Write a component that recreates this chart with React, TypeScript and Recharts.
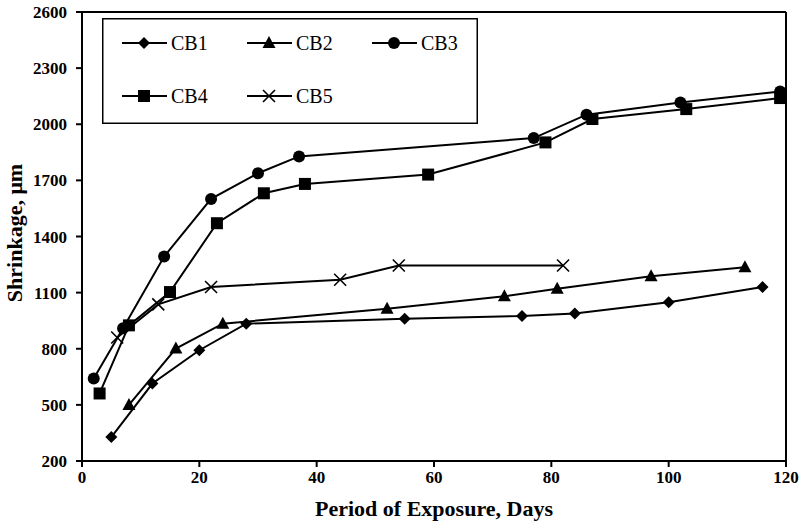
import { LineChart, Line, XAxis, YAxis } from 'recharts';

const cb1Days = [5, 12, 20, 28, 55, 75, 84, 100, 116];
const cb1Values = [328, 614, 792, 934, 961, 975, 988, 1048, 1130];

const cb2Days = [8, 16, 24, 52, 72, 81, 97, 113];
const cb2Values = [500, 801, 934, 1014, 1080, 1121, 1187, 1236];

const cb3Days = [2, 7, 14, 22, 30, 37, 77, 86, 102, 119];
const cb3Values = [641, 910, 1293, 1601, 1738, 1828, 1926, 2051, 2116, 2175];

const cb4Days = [3, 8, 15, 23, 31, 38, 59, 79, 87, 103, 119];
const cb4Values = [561, 925, 1103, 1471, 1631, 1681, 1731, 1903, 2028, 2081, 2140];

const cb5Days = [6, 13, 22, 44, 54, 82];
const cb5Values = [860, 1037, 1130, 1169, 1245, 1245];

const xTicks = [0, 20, 40, 60, 80, 100, 120];
const yTicks = [200, 500, 800, 1100, 1400, 1700, 2000, 2300, 2600];

type Shape = 'diamond' | 'triangle' | 'circle' | 'square' | 'cross';

const series: { name: string; shape: Shape; days: number[]; values: number[] }[] = [
  { name: 'CB1', shape: 'diamond', days: cb1Days, values: cb1Values },
  { name: 'CB2', shape: 'triangle', days: cb2Days, values: cb2Values },
  { name: 'CB3', shape: 'circle', days: cb3Days, values: cb3Values },
  { name: 'CB4', shape: 'square', days: cb4Days, values: cb4Values },
  { name: 'CB5', shape: 'cross', days: cb5Days, values: cb5Values },
];

const SERIF = '"Liberation Serif", "Times New Roman", serif';

const toRows = (days: number[], values: number[]) =>
  days.map((d, i) => ({ day: d, value: values[i] }));

function Marker({ shape, cx, cy }: { shape: Shape; cx: number; cy: number }) {
  switch (shape) {
    case 'diamond':
      return <path d={`M${cx},${cy - 6}L${cx + 6},${cy}L${cx},${cy + 6}L${cx - 6},${cy}Z`} fill="#000" />;
    case 'triangle':
      return <path d={`M${cx},${cy - 7}L${cx + 6.5},${cy + 5}L${cx - 6.5},${cy + 5}Z`} fill="#000" />;
    case 'circle':
      return <circle cx={cx} cy={cy} r={6} fill="#000" />;
    case 'square':
      return <rect x={cx - 6} y={cy - 6} width={12} height={12} fill="#000" />;
    case 'cross':
      return (
        <path
          d={`M${cx - 6},${cy - 6}L${cx + 6},${cy + 6}M${cx - 6},${cy + 6}L${cx + 6},${cy - 6}`}
          stroke="#000"
          strokeWidth={1.6}
          fill="none"
        />
      );
  }
}

// axis tick labels: bold serif, drawn by hand so the font is sure to stick
function XTick({ x, y, payload }: any) {
  return (
    <text x={x} y={y + 16} textAnchor="middle" fontFamily={SERIF} fontWeight="bold" fontSize={17} fill="#000">
      {payload.value}
    </text>
  );
}

function YTick({ x, y, payload }: any) {
  return (
    <text x={x} y={y + 6} textAnchor="end" fontFamily={SERIF} fontWeight="bold" fontSize={17} fill="#000">
      {payload.value}
    </text>
  );
}

function LegendBox() {
  const items = [
    { s: series[0], x: 20, y: 25 },
    { s: series[1], x: 145, y: 25 },
    { s: series[2], x: 270, y: 25 },
    { s: series[3], x: 20, y: 78 },
    { s: series[4], x: 145, y: 78 },
  ];
  return (
    <svg width={376} height={106} style={{ position: 'absolute', left: 102, top: 18 }}>
      <rect x={0.75} y={0.75} width={374.5} height={104.5} fill="#fff" stroke="#000" strokeWidth={1.5} />
      {items.map(({ s, x, y }) => (
        <g key={s.name}>
          <line x1={x} y1={y} x2={x + 45} y2={y} stroke="#000" strokeWidth={2} />
          <Marker shape={s.shape} cx={x + 22} cy={y} />
          <text x={x + 49} y={y + 7} fontFamily={SERIF} fontSize={20} fill="#000">
            {s.name}
          </text>
        </g>
      ))}
    </svg>
  );
}

export default function App() {
  return (
    <div
      style={{
        position: 'absolute',
        left: 0,
        top: 0,
        width: 802,
        height: 531,
        background: '#fff',
        fontFamily: SERIF,
      }}
    >
      <LineChart
        width={802}
        height={531}
        margin={{ top: 11, right: 15, left: 0, bottom: 0 }}
        style={{ fontFamily: SERIF }}
      >
        <XAxis
          xAxisId="main"
          type="number"
          dataKey="day"
          domain={[0, 120]}
          ticks={xTicks}
          tick={<XTick />}
          tickSize={6}
          tickMargin={0}
          height={70}
          axisLine={{ stroke: '#000', strokeWidth: 2 }}
          tickLine={{ stroke: '#000', strokeWidth: 2 }}
          allowDuplicatedCategory={false}
          label={{
            content: () => (
              <text x={434} y={516} textAnchor="middle" fontFamily={SERIF} fontWeight="bold" fontSize={22} fill="#000">
                Period of Exposure, Days
              </text>
            ),
          }}
        />
        <XAxis
          xAxisId="top"
          orientation="top"
          type="number"
          domain={[0, 120]}
          tick={false}
          tickLine={false}
          height={1}
          axisLine={{ stroke: '#000', strokeWidth: 2 }}
        />
        <YAxis
          yAxisId="main"
          type="number"
          domain={[200, 2600]}
          ticks={yTicks}
          tick={<YTick />}
          tickSize={6}
          tickMargin={9}
          width={82}
          axisLine={{ stroke: '#000', strokeWidth: 2 }}
          tickLine={{ stroke: '#000', strokeWidth: 2 }}
          label={{
            content: () => (
              <text
                x={22}
                y={233}
                transform="rotate(-90 22 233)"
                textAnchor="middle"
                fontFamily={SERIF}
                fontWeight="bold"
                fontSize={22}
                fill="#000"
              >
                Shrinkage, μm
              </text>
            ),
          }}
        />
        <YAxis
          yAxisId="right"
          orientation="right"
          type="number"
          domain={[200, 2600]}
          tick={false}
          tickLine={false}
          width={1}
          axisLine={{ stroke: '#000', strokeWidth: 2 }}
        />
        {series.map((s) => (
          <Line
            key={s.name}
            xAxisId="main"
            yAxisId="main"
            data={toRows(s.days, s.values)}
            dataKey="value"
            name={s.name}
            type="linear"
            stroke="#000"
            strokeWidth={2}
            isAnimationActive={false}
            dot={(p: any) => <Marker key={`${s.name}-${p.index}`} shape={s.shape} cx={p.cx} cy={p.cy} />}
            activeDot={false}
          />
        ))}
      </LineChart>
      <LegendBox />
    </div>
  );
}
